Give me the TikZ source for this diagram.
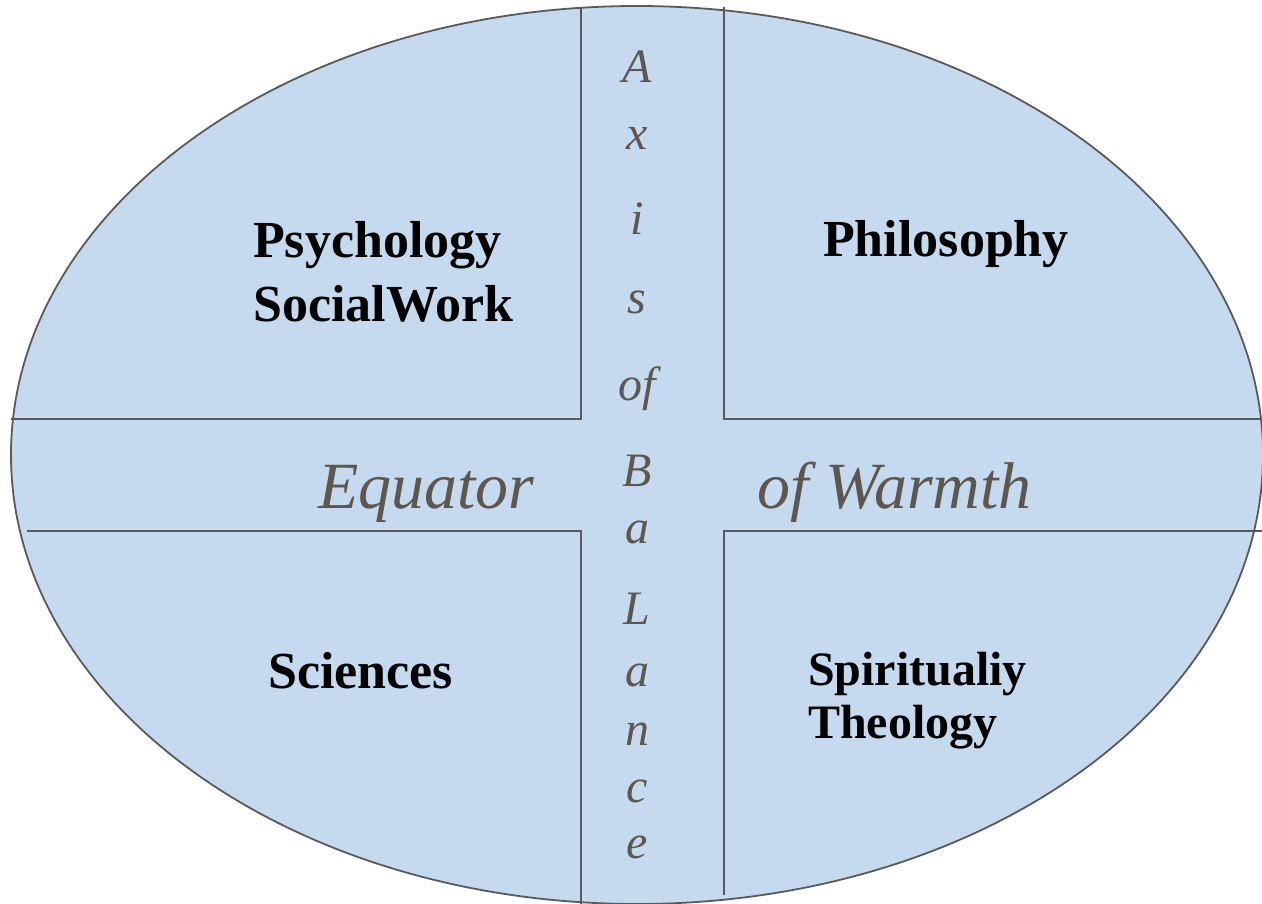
\documentclass[tikz,border=0pt]{standalone}
\usepackage{fontspec}
\setmainfont{Liberation Serif}
\usetikzlibrary{positioning}
\definecolor{fieldblue}{HTML}{C6DAEF}
\definecolor{rulegray}{HTML}{5A5A5A}
\definecolor{axisbrown}{HTML}{5E574F}
\tikzset{field/.style={draw=rulegray, line width=1.8pt, fill=fieldblue}}
\tikzset{rule/.style={draw=rulegray, line width=2pt}}
\tikzset{subject/.style={align=left, anchor=base west, inner sep=0pt,
    font=\bfseries\fontsize{52}{64}\selectfont}}
\tikzset{equator/.style={anchor=base west, inner sep=0pt, text=axisbrown,
    font=\itshape\fontsize{66}{70}\selectfont}}
\tikzset{axisletter/.style={anchor=base, inner sep=0pt, text=axisbrown,
    font=\itshape\fontsize{48}{50}\selectfont}}

\begin{document}
\begin{tikzpicture}[x=1pt, y=-1pt]
    \useasboundingbox (0, 0) rectangle (1262, 904);
    \fill[white] (0, 0) rectangle (1262, 904);
    \draw[field] (637, 455) ellipse [x radius=626, y radius=449];

    % the four quadrant corners
    \coordinate (NW) at (581, 419);
    \coordinate (NE) at (724, 419);
    \coordinate (SW) at (581, 531);
    \coordinate (SE) at (724, 531);

    \draw[rule] (NW |- 0, 7) -- (NW) -- (11, 419);
    \draw[rule] (NE |- 0, 7) -- (NE) -- (1262, 419);
    \draw[rule] (SW |- 0, 904) -- (SW) -- (27, 531);
    \draw[rule] (SE |- 0, 895) -- (SE) -- (1262, 531);

    % base anchor sits on the last line
    \node[subject] (psych) at (253, 321) {Psychology\\SocialWork};
    \node[subject] (philo) at (823, 257) {Philosophy};
    \node[subject] (sci) at (268, 688) {Sciences};
    \node[subject, font=\bfseries\fontsize{48}{53}\selectfont]
        (spirit) at (808, 738) {Spiritualiy\\Theology};

    \node[equator] (eqleft) at (318, 508) {Equator};
    \node[equator] (eqright) at (757, 508) {of Warmth};

    \foreach \letter/\base [count=\i] in {A/83, x/150, i/235, s/314, of/400,
        B/486, a/543, L/624, a/686, n/745, c/802, e/858}
        \node[axisletter] (axis\i) at (637, \base) {\letter};
\end{tikzpicture}
\end{document}
